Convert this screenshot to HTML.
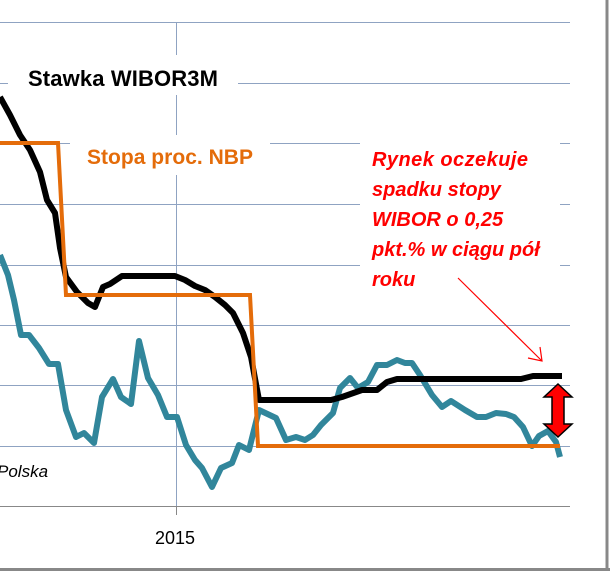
<!DOCTYPE html>
<html><head><meta charset="utf-8"><style>
body{margin:0;width:610px;height:571px;background:#fff;overflow:hidden;font-family:"Liberation Sans",sans-serif}
</style></head><body>
<svg width="610" height="571" viewBox="0 0 610 571" xmlns="http://www.w3.org/2000/svg">
<g stroke="#8fa3c2" stroke-width="1">
<line x1="0" y1="22.5" x2="570" y2="22.5"/>
<line x1="0" y1="83.5" x2="570" y2="83.5"/>
<line x1="0" y1="143.5" x2="570" y2="143.5"/>
<line x1="0" y1="204.5" x2="570" y2="204.5"/>
<line x1="0" y1="265.5" x2="570" y2="265.5"/>
<line x1="0" y1="325.5" x2="570" y2="325.5"/>
<line x1="0" y1="385.5" x2="570" y2="385.5"/>
<line x1="0" y1="446.5" x2="570" y2="446.5"/>
<line x1="176.5" y1="22" x2="176.5" y2="506"/>
</g>
<line x1="0" y1="506.5" x2="570" y2="506.5" stroke="#888" stroke-width="1"/>
<line x1="176.5" y1="506" x2="176.5" y2="515" stroke="#888"/>
<line x1="607" y1="0" x2="607" y2="571" stroke="#888" stroke-width="3"/>
<line x1="0" y1="569.5" x2="610" y2="569.5" stroke="#888" stroke-width="3"/>
<rect x="8" y="55" width="230" height="40" fill="#fff"/>
<rect x="70" y="135" width="200" height="40" fill="#fff"/>
<rect x="360" y="140" width="200" height="155" fill="#fff"/>
<polyline fill="none" stroke="#31869b" stroke-width="6" stroke-linejoin="round" points="0,255 8,275 14,300 21,335 29,335 39,348 49,364 58,364 66,410 76,437 84,433 94,443 102,397 113,379 121,397 131,404 139,341 148,378 158,395 167,417 177,417 186,445 195,460 202,468 212,487 221,468 232,463 239,445 249,450 259,410 276,418 286,440 296,437 305,440 313,435 321,425 333,413 340,388 350,378 358,388 368,382 377,365 387,365 397,360 405,363 412,363 420,375 432,395 442,407 451,401 465,410 477,417 486,417 496,413 506,414 514,417 523,427 532,446 539,436 548,431 556,442 560,457"/>
<polyline fill="none" stroke="#000" stroke-width="6" stroke-linejoin="round" points="0,97 10,115 20,135 30,150 40,172 47,200 55,213 60,248 66,277 77,292 88,303 95,307 103,287 110,284 122,276 175,276 185,280 195,286 205,290 215,297 225,305 233,313 243,333 251,357 259,400 331,400 342,397 362,390 377,390 387,382 397,379 521,379 533,376 562,376"/>
<polyline fill="none" stroke="#e46c0a" stroke-width="4" stroke-linejoin="miter" points="0,143 58,143 66,295 250,295 258,446 560,446"/>
<text x="28" y="86" font-size="22" font-weight="bold" fill="#000" textLength="190">Stawka WIBOR3M</text>
<text x="87" y="164" font-size="21" font-weight="bold" fill="#e46c0a" textLength="166">Stopa proc. NBP</text>
<g font-size="20" font-weight="bold" font-style="italic" fill="#ff0000">
<text x="372" y="166" textLength="156">Rynek oczekuje</text>
<text x="372" y="196">spadku stopy</text>
<text x="372" y="226">WIBOR o 0,25</text>
<text x="372" y="256">pkt.% w ciągu pół</text>
<text x="372" y="286">roku</text>
</g>
<text x="-3" y="477" font-size="17" font-style="italic" fill="#000">Polska</text>
<text x="155" y="544" font-size="18" fill="#000">2015</text>
<line x1="458" y1="278" x2="542" y2="361" stroke="#ff0000" stroke-width="1.2"/>
<polyline points="528,358 542,361 540,347" fill="none" stroke="#ff0000" stroke-width="1.2"/>
<polygon points="558,384 572,397 564,397 564,424 572,424 558,437 544,424 552,424 552,397 544,397" fill="#ff0000" stroke="#000" stroke-width="1.5"/>
</svg>
</body></html>
